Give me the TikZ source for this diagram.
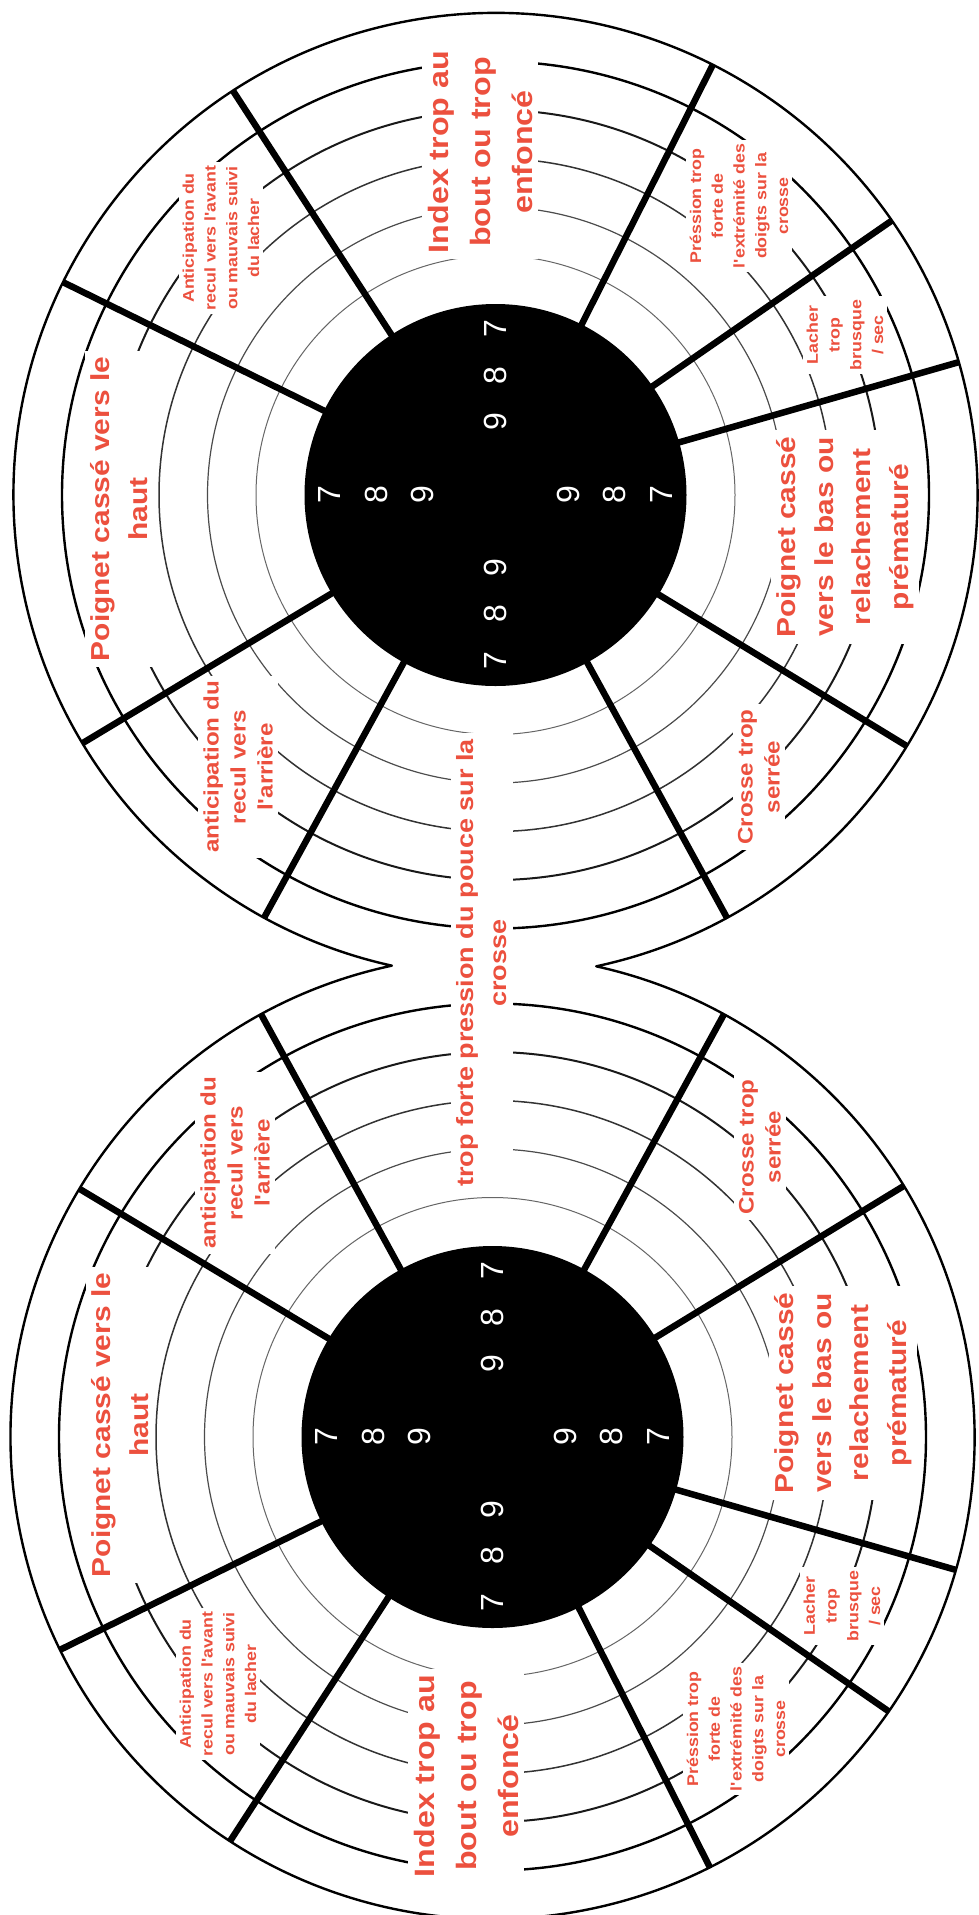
\documentclass[tikz,border=0pt]{standalone}
\usepackage{fontspec}
\setmainfont{Liberation Sans}
\newfontfamily\labfont{Liberation Sans}[FakeStretch=1.15]
\usetikzlibrary{calc}
\definecolor{labred}{RGB}{236,80,62}
\begin{document}
\begin{tikzpicture}[x=1pt,y=1pt,
  lblbase/.style={rotate=90, fill=white, align=center, text=labred, inner sep=6pt},
  idxlbl/.style={lblbase, font=\labfont\bfseries\fontsize{28}{42}\selectfont},
  biglbl/.style={lblbase, font=\labfont\bfseries\fontsize{26}{37.5}\selectfont},
  midlbl/.style={lblbase, font=\labfont\bfseries\fontsize{23.5}{33}\selectfont},
  medlbl/.style={lblbase, inner sep=5pt, font=\labfont\bfseries\fontsize{21}{27}\selectfont},
  smllbl/.style={lblbase, inner sep=4pt, font=\labfont\bfseries\fontsize{15.5}{21.7}\selectfont},
  digit/.style={rotate=90, text=white, inner sep=0pt, font=\fontsize{32}{32}\selectfont},
  radial/.style={line width=6.5pt, black},
  outline/.style={line width=2.4pt, black, line join=round}]
\useasboundingbox (0,0) rectangle (978,-1915);
\fill[white] (0,0) rectangle (978,-1915);
\coordinate (c1) at (495.5,-495);
\coordinate (c2) at (492.5,-1437);
% black centres
\fill[black] (c1) circle[radius=191];
\fill[black] (c2) circle[radius=191];
% rings
\foreach \r/\w/\k in {239.5/1.0/60, 288/1.2/70, 336.5/1.5/80, 385/2.0/90, 433.5/2.4/100}{
  \draw[line width=\w pt, black!\k] (c1) circle[radius=\r];
  \draw[line width=\w pt, black!\k] (c2) circle[radius=\r];
}
% outer outline (union of both circles)
\draw[outline] (596.2,-966.3) arc[start angle=-77.94, end angle=257.58, radius=482]
  arc[start angle=102.06, end angle=437.58, radius=482] -- cycle;
% labels, top target
\node[idxlbl] (tIndex) at (480,-152) {Index trop au\\bout ou trop\\enfoncé};
\node[smllbl] (tAvant) at (221,-238) {Anticipation du\\recul vers l'avant\\ou mauvais suivi\\du lacher};
\node[biglbl] (tHaut) at (119,-509) {Poignet cassé vers le\\haut};
\node[medlbl] (tArr) at (238,-767) {anticipation du\\recul vers\\l'arrière};
\node[medlbl] (tCrosse) at (759,-777) {Crosse trop\\serrée};
\node[biglbl] (tBas) at (845,-537) {Poignet cassé\\vers le bas ou\\relachement\\prématuré};
\node[smllbl] (tLacher) at (845,-335) {Lacher\\trop\\brusque\\/ sec};
\node[smllbl] (tPression) at (739,-206) {Préssion trop\\forte de\\l'extrémité des\\doigts sur la\\crosse};
% shared middle label
\node[midlbl] (mPouce) at (482,-963) {trop forte pression du pouce sur la\\crosse};
% labels, bottom target
\node[medlbl] (bArr) at (235,-1163) {anticipation du\\recul vers\\l'arrière};
\node[biglbl] (bHaut) at (120,-1425) {Poignet cassé vers le\\haut};
\node[smllbl] (bAvant) at (218,-1684) {Anticipation du\\recul vers l'avant\\ou mauvais suivi\\du lacher};
\node[idxlbl] (bIndex) at (466,-1776) {Index trop au\\bout ou trop\\enfoncé};
\node[smllbl] (bPression) at (736,-1729) {Préssion trop\\forte de\\l'extrémité des\\doigts sur la\\crosse};
\node[smllbl] (bLacher) at (842,-1606) {Lacher\\trop\\brusque\\/ sec};
\node[biglbl] (bBas) at (843,-1393) {Poignet cassé\\vers le bas ou\\relachement\\prématuré};
\node[medlbl] (bCrosse) at (760,-1147) {Crosse trop\\serrée};
% radial separators
\foreach \a in {16,34.7,63.2,123,153.8,211,241.3,298.7,328.6}{
  \draw[radial] ($(c1)+(\a:189)$) -- ($(c1)+(\a:482)$);
  \draw[radial] ($(c2)+(-\a:189)$) -- ($(c2)+(-\a:482)$);
}
% score numbers
\foreach \c in {c1,c2}{
  \foreach \d/\n in {73/9,119/8,166/7}{
    \node[digit] (\c u\n) at ($(\c)+(0,\d)$) {\n};
    \node[digit] (\c d\n) at ($(\c)+(0,-\d)$) {\n};
    \node[digit] (\c l\n) at ($(\c)+(-\d,0)$) {\n};
    \node[digit] (\c r\n) at ($(\c)+(\d,0)$) {\n};
  }
}
\end{tikzpicture}
\end{document}
